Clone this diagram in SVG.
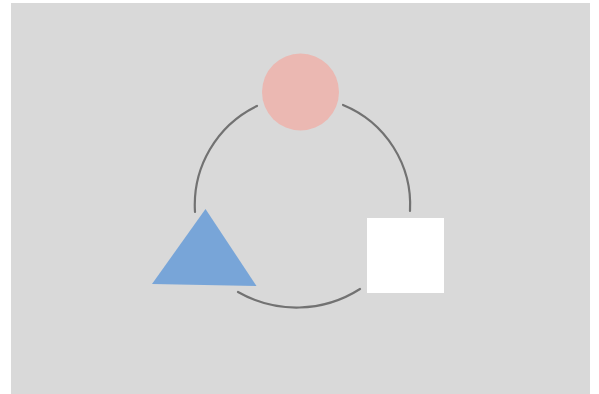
<svg xmlns="http://www.w3.org/2000/svg" width="599" height="394" viewBox="0 0 599 394">
<style>
.conn{fill:none;stroke:#727272;stroke-width:2.2;stroke-linecap:round}
</style>
<rect x="0" y="0" width="599" height="394" fill="#ffffff"/>
<rect x="11" y="3" width="579" height="391" fill="#d9d9d9"/>
<g id="connectors">
<path class="conn" d="M257,106 A110,110 0 0 0 195,212"/>
<path class="conn" d="M343,105 A108,108 0 0 1 410,211"/>
<path class="conn" d="M238,292 A118,118 0 0 0 360,289"/>
</g>
<g id="circle"><circle cx="300.5" cy="92" r="38.5" fill="#ebb8b2"/></g>
<g id="triangle"><polygon points="205.5,209 152,284 256.5,286" fill="#78a5d8"/></g>
<g id="square"><rect x="367" y="218" width="77" height="75" fill="#ffffff"/></g>
</svg>
